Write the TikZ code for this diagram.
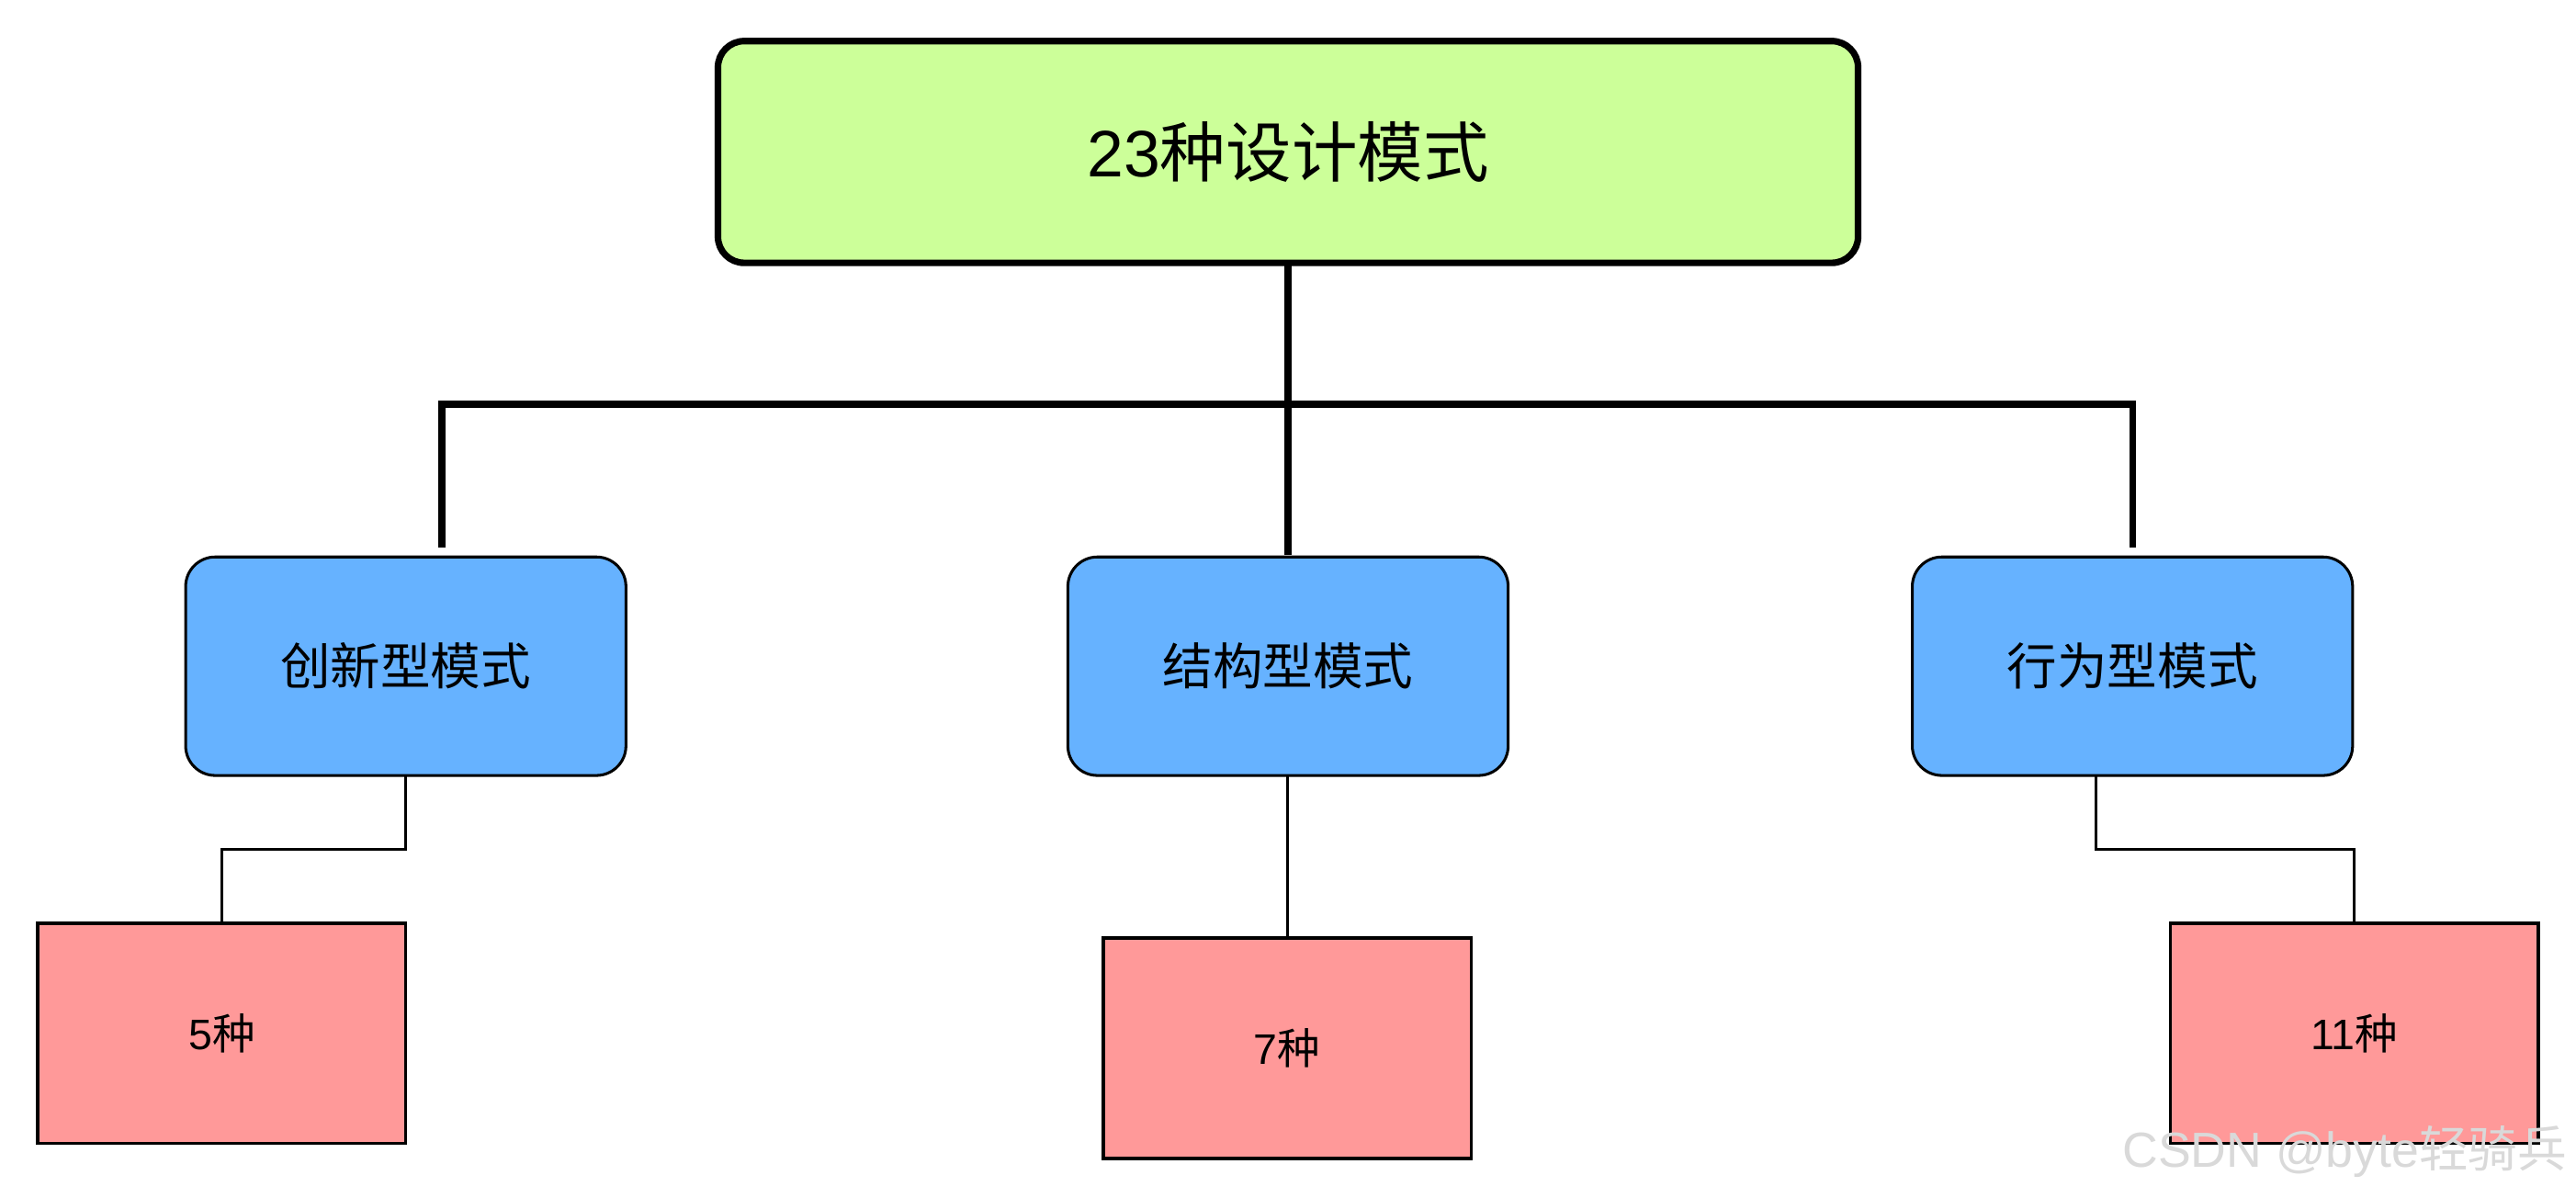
\documentclass[tikz,border=0pt]{standalone}
\usepackage{fontspec}
\setmainfont{Noto Sans CJK SC}
\newfontfamily\latf{Liberation Sans}
\definecolor{topgreen}{HTML}{CCFF99}
\definecolor{midblue}{HTML}{66B2FF}
\definecolor{leafpink}{HTML}{FF9999}
\begin{document}
\begin{tikzpicture}[x=1pt,y=-1pt,
  topbox/.style={draw=black,line width=4pt,fill=topgreen,rounded corners=16pt,
    minimum width=694pt,minimum height=135pt,inner sep=0pt,outer sep=0pt,
    font=\fontsize{40}{44}\selectfont},
  midbox/.style={draw=black,line width=1.7pt,fill=midblue,rounded corners=18pt,
    minimum width=268pt,minimum height=133pt,inner sep=0pt,outer sep=0pt,
    font=\fontsize{30.5}{33}\selectfont},
  leafbox/.style={draw=black,line width=2pt,fill=leafpink,
    minimum width=224pt,minimum height=134pt,inner sep=0pt,outer sep=0pt,
    font=\fontsize{26}{29}\selectfont},
  thick link/.style={line width=4pt},
  thin link/.style={line width=1.7pt}]
\useasboundingbox (0,0) rectangle (1568,729);
\fill[white] (0,0) rectangle (1568,729);
\node[topbox] (top) at (784,92.5) {{\latf 23}种设计模式};
\node[midbox] (m1) at (247,405.5) {创新型模式};
\node[midbox] (m2) at (784,405.5) {结构型模式};
\node[midbox] (m3) at (1298,405.5) {行为型模式};
\node[leafbox] (l1) at (135,629) {{\latf 5}种};
\node[leafbox] (l2) at (783.5,638) {{\latf 7}种};
\node[leafbox] (l3) at (1433,629) {{\latf 11}种};
\coordinate (busL) at (269,246);
\coordinate (busR) at (1298,246);
\coordinate (dropL) at (269,331);
% thick bus
\draw[thick link] (top.south) -- (top.south |- busL);
\draw[thick link,line cap=rect] (dropL) -- (busL) -- (busR) -- ([yshift=8pt]m3.north);
\draw[thick link] (top.south |- busL) -- ([yshift=1pt]m2.north);
% thin links
\draw[thin link] (m1.south) -- (m1.south |- 0,517) -| (l1.north);
\draw[thin link] ([xshift=-0.5pt]m2.south) -- (l2.north);
\draw[thin link] ([xshift=-22pt]m3.south) -- ([xshift=-22pt]m3.south |- 0,517) -| (l3.north);
\node[anchor=east,text=gray!30,font=\fontsize{30}{32}\selectfont] (wm) at (1566,701) {{\latf CSDN @byte}轻骑兵};
\end{tikzpicture}
\end{document}
